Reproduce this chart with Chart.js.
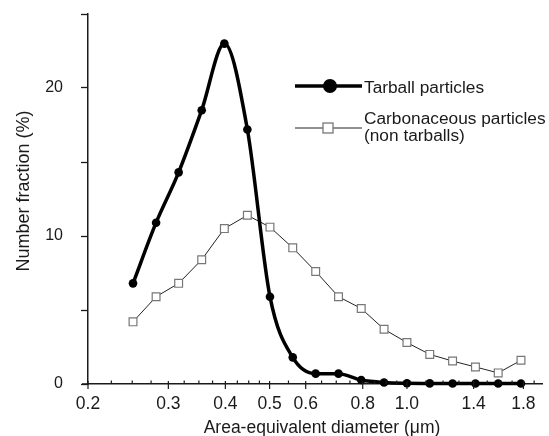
<!DOCTYPE html>
<html>
<head>
<meta charset="utf-8">
<script src="https://cdn.jsdelivr.net/npm/chart.js@4.4.1/dist/chart.umd.min.js"></script>
<style>
  html, body { margin: 0; padding: 0; background: #fff; }
  #wrap { width: 549px; height: 436px; }
</style>
</head>
<body>
<div id="wrap"><canvas id="chart"></canvas></div>
<script>
// size bins (um), log spaced
var diameters = [0.251, 0.282, 0.316, 0.355, 0.398, 0.447, 0.501, 0.562, 0.631, 0.708, 0.794, 0.891, 1.0, 1.122, 1.259, 1.413, 1.585, 1.778];
var tarball = [6.8, 10.9, 14.3, 18.5, 23.0, 17.2, 5.9, 1.8, 0.7, 0.7, 0.27, 0.1, 0.05, 0.04, 0.03, 0.03, 0.03, 0.03];
var carbonaceous = [4.2, 5.9, 6.8, 8.4, 10.5, 11.4, 10.6, 9.2, 7.6, 5.9, 5.1, 3.7, 2.8, 2.0, 1.55, 1.15, 0.75, 1.6];

var xMajorTicks = [0.2, 0.3, 0.4, 0.5, 0.6, 0.8, 1.0, 1.4, 1.8];
var xTickLabels = ['0.2', '0.3', '0.4', '0.5', '0.6', '0.8', '1.0', '1.4', '1.8'];
var xMinorTicks = [0.225, 0.25, 0.275, 0.325, 0.35, 0.375, 0.425, 0.45, 0.475, 0.55, 0.65, 0.7, 0.75, 0.85, 0.9, 0.95, 1.1, 1.2, 1.3, 1.5, 1.6, 1.7, 1.9];
var yLabeled = [0, 10, 20];

var labelFont = '"Liberation Sans", Arial, sans-serif';
var ink = '#1a1a1a';

function points(ys) {
  return diameters.map(function (d, i) { return { x: d, y: ys[i] }; });
}

var extras = {
  id: 'extras',
  afterDraw: function (chart) {
    var ctx = chart.ctx, xs = chart.scales.x, ys = chart.scales.y;
    var base = ys.getPixelForValue(0);
    ctx.save();
    ctx.strokeStyle = ink;
    ctx.lineWidth = 1.5;
    // axis stub left of origin
    ctx.beginPath();
    ctx.moveTo(xs.left - 6, base);
    ctx.lineTo(xs.left, base);
    ctx.stroke();
    // x ticks: majors cross, minors point up
    ctx.lineWidth = 1.2;
    xMajorTicks.forEach(function (v) {
      var px = xs.getPixelForValue(v);
      ctx.beginPath();
      ctx.moveTo(px, base - 3);
      ctx.lineTo(px, base + 5);
      ctx.stroke();
    });
    xMinorTicks.forEach(function (v) {
      var px = xs.getPixelForValue(v);
      ctx.beginPath();
      ctx.moveTo(px, base - 3.5);
      ctx.lineTo(px, base);
      ctx.stroke();
    });

    // axis titles
    ctx.fillStyle = ink;
    ctx.font = '17.5px ' + labelFont;
    ctx.textAlign = 'center';
    ctx.textBaseline = 'alphabetic';
    ctx.fillText('Area-equivalent diameter (\u03bcm)', 322, 433);
    ctx.save();
    ctx.translate(29, 191);
    ctx.rotate(-Math.PI / 2);
    ctx.font = '18px ' + labelFont;
    ctx.fillText('Number fraction (%)', 0, 0);
    ctx.restore();

    // legend
    var t = chart.data.datasets[0], c = chart.data.datasets[1];
    ctx.strokeStyle = t.borderColor;
    ctx.lineWidth = t.borderWidth;
    ctx.beginPath();
    ctx.moveTo(295, 86);
    ctx.lineTo(362, 86);
    ctx.stroke();
    ctx.fillStyle = t.pointBackgroundColor;
    ctx.beginPath();
    ctx.arc(330, 86, 7, 0, Math.PI * 2);
    ctx.fill();

    ctx.strokeStyle = c.borderColor;
    ctx.lineWidth = c.borderWidth;
    ctx.beginPath();
    ctx.moveTo(295, 128);
    ctx.lineTo(362, 128);
    ctx.stroke();
    ctx.fillStyle = '#fff';
    ctx.strokeStyle = c.pointBorderColor;
    ctx.lineWidth = 1.3;
    ctx.fillRect(323, 123, 10, 10);
    ctx.strokeRect(323, 123, 10, 10);

    ctx.fillStyle = ink;
    ctx.textAlign = 'left';
    ctx.font = '17.3px ' + labelFont;
    ctx.fillText(t.label, 364, 93);
    ctx.fillText('Carbonaceous particles', 364, 124);
    ctx.fillText('(non tarballs)', 364, 141);
    ctx.restore();
  }
};

new Chart(document.getElementById('chart'), {
  type: 'line',
  data: {
    datasets: [{
      label: 'Tarball particles',
      data: points(tarball),
      borderColor: '#000',
      borderWidth: 3.5,
      cubicInterpolationMode: 'monotone',
      pointRadius: 4.3,
      pointBackgroundColor: '#000',
      pointBorderColor: '#000',
      pointBorderWidth: 0,
      clip: false
    }, {
      label: 'Carbonaceous particles (non tarballs)',
      data: points(carbonaceous),
      borderColor: '#222',
      borderWidth: 1,
      tension: 0,
      pointStyle: 'rect',
      pointRadius: 5.5,
      pointBackgroundColor: '#fff',
      pointBorderColor: '#777',
      pointBorderWidth: 1.2,
      clip: false
    }]
  },
  options: {
    responsive: true,
    maintainAspectRatio: false,
    animation: false,
    layout: { padding: { top: 14, right: 0, left: 0, bottom: 0 } },
    plugins: { legend: { display: false }, tooltip: { enabled: false } },
    scales: {
      x: {
        type: 'logarithmic',
        min: 0.2,
        max: 1.98,
        afterBuildTicks: function (scale) {
          scale.ticks = xMajorTicks.map(function (v) { return { value: v, major: true }; });
        },
        afterFit: function (scale) { scale.height = 52; },
        grid: { display: false, drawTicks: false },
        border: { display: true, color: ink, width: 1.5 },
        ticks: {
          autoSkip: false,
          maxRotation: 0,
          padding: 10,
          color: ink,
          font: { size: 17.5, family: labelFont },
          callback: function (value) {
            var i = xMajorTicks.indexOf(value);
            return i >= 0 ? xTickLabels[i] : '';
          }
        }
      },
      y: {
        min: 0,
        max: 25,
        afterFit: function (scale) {
          scale.width = 88;
          scale.paddingTop = 0;
          scale.paddingBottom = 0;
        },
        grid: { drawOnChartArea: false, drawTicks: true, tickLength: 7, tickColor: ink, tickWidth: 1.3 },
        border: { display: true, color: ink, width: 1.5 },
        ticks: {
          stepSize: 5,
          padding: 18,
          color: ink,
          font: { size: 16, family: labelFont },
          callback: function (value) {
            return yLabeled.indexOf(value) >= 0 ? String(value) : '';
          }
        }
      }
    }
  },
  plugins: [extras]
});
</script>
</body>
</html>
